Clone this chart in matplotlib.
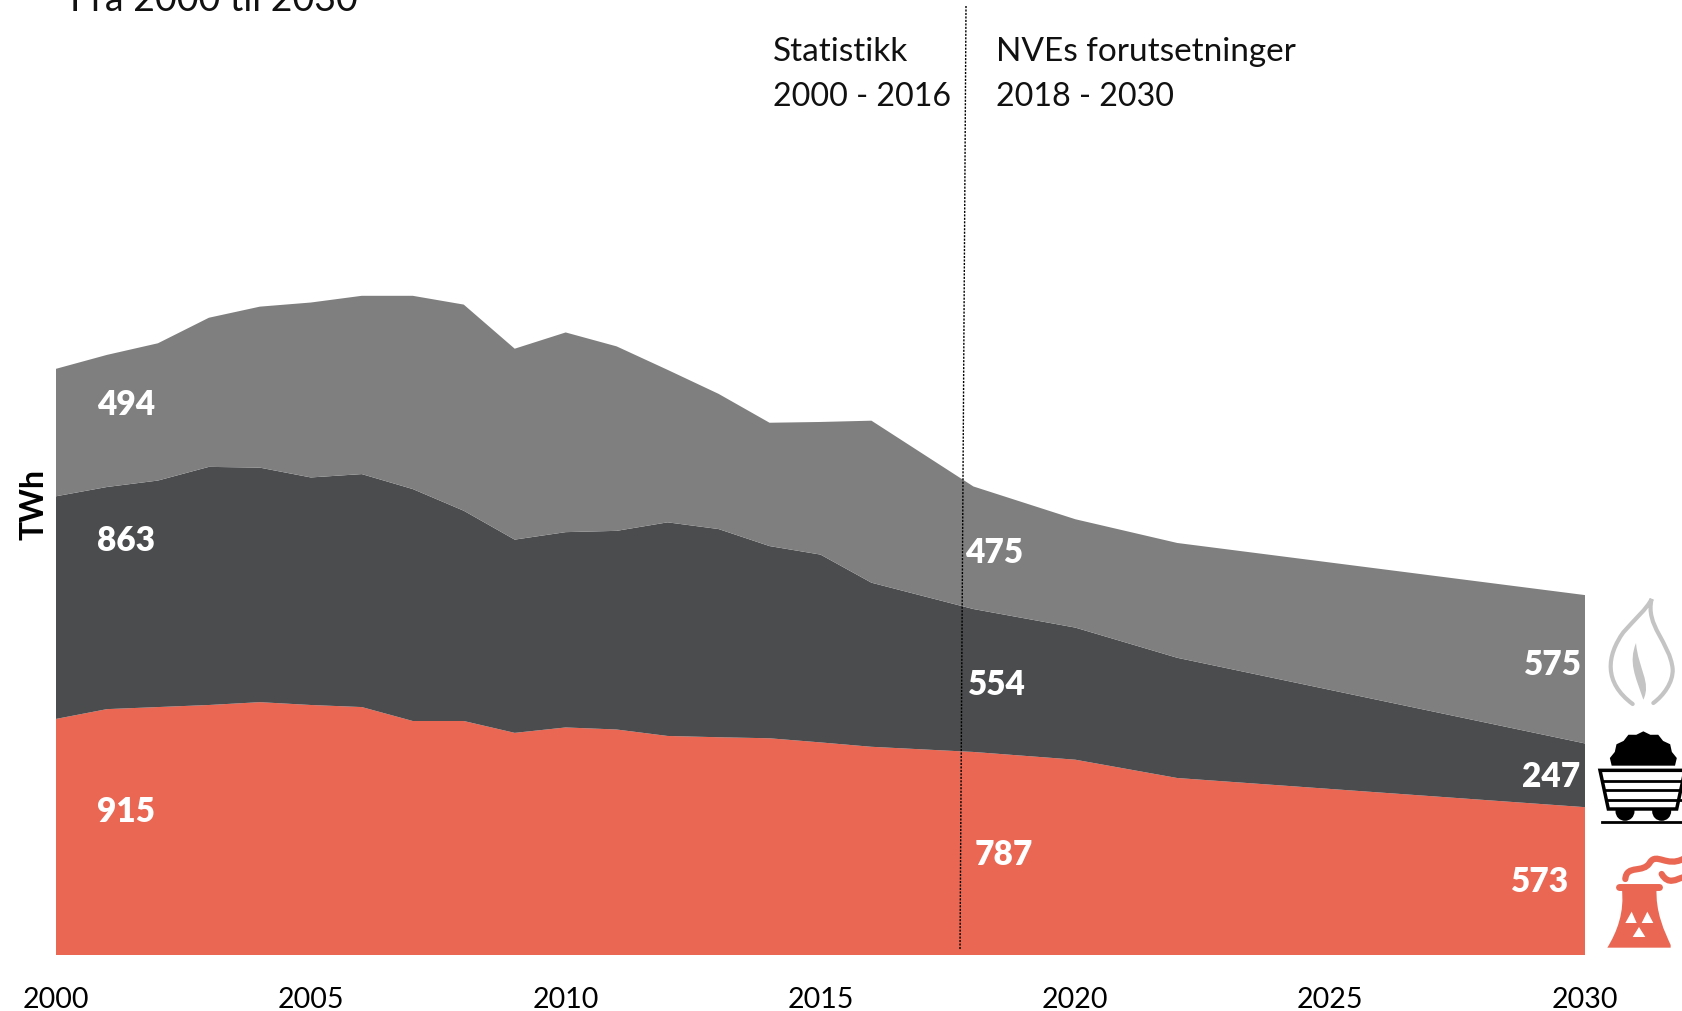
#!/usr/bin/env python3

import numpy as np
import matplotlib
matplotlib.use('Agg')
import matplotlib.pyplot as plt
from matplotlib.path import Path
from matplotlib.patches import PathPatch, Polygon, Circle

plt.rcParams['font.family'] = ['Lato', 'DejaVu Sans']

years = [2000, 2001, 2002, 2003, 2004, 2005, 2006, 2007, 2008, 2009, 2010,
         2011, 2012, 2013, 2014, 2015, 2016, 2018, 2020, 2022, 2030]
nuclear = [915, 953, 961, 969, 980, 969, 961, 907, 907, 861, 882,
           874, 849, 844, 840, 824, 807, 787, 757, 686, 573]
coal = [863, 861, 878, 923, 909, 882, 903, 899, 815, 749, 757,
        770, 828, 807, 745, 728, 636, 554, 512, 466, 247]
gas = [494, 512, 532, 578, 624, 678, 691, 749, 799, 740, 774,
       715, 591, 524, 478, 514, 628, 475, 420, 445, 575]
xticks = [2000, 2005, 2010, 2015, 2020, 2025, 2030]

RED = '#EA6753'
DARK = '#4B4C4E'
GREY = '#7F7F7F'
W, H = 1683, 1012

fig = plt.figure(figsize=(W / 100, H / 100), dpi=100)

## main chart, baseline at pixel 956
ax = fig.add_axes([56 / W, (H - 956) / H, (1585 - 56) / W, 956 / H])
ax.stackplot(years, nuclear, coal, gas, colors=[RED, DARK, GREY], lw=0)
ax.set_xlim(2000, 2030)
ax.set_ylim(0, 956 / 0.258)
ax.set_xticks(xticks)
ax.tick_params(axis='x', length=0, pad=22, labelsize=20.5)
ax.set_yticks([])
for s in ax.spines.values():
    s.set_visible(False)

## overlay in pixel coordinates for text and icons
ov = fig.add_axes([0, 0, 1, 1])
ov.set_xlim(0, W)
ov.set_ylim(H, 0)
ov.axis('off')
ov.patch.set_alpha(0)

ov.plot([966, 960], [7, 951], color='black', lw=1, ls=(0, (1.5, 1)))

ov.text(70, 11, 'Fra 2000 til 2030', fontsize=27, color='#111111', va='baseline')
ov.text(773, 52, 'Statistikk', fontsize=24, va='center', color='#111111')
ov.text(773, 97, '2000 - 2016', fontsize=23.2, va='center', color='#111111')
ov.text(996, 52, 'NVEs forutsetninger', fontsize=24, va='center', color='#111111')
ov.text(996, 97, '2018 - 2030', fontsize=23.2, va='center', color='#111111')
ov.text(34, 504, 'TWh', fontsize=23, fontweight='bold', rotation=90,
        ha='center', va='center')

labels = [('494', 126, 405), ('863', 126, 541), ('915', 126, 812),
          ('475', 994, 553), ('554', 997, 685), ('787', 1004, 855),
          ('575', 1553, 665), ('247', 1551, 777), ('573', 1540, 882)]
for t, x, y in labels:
    ov.text(x, y, t, fontsize=24, fontweight='heavy', color='white',
            ha='center', va='center')


def z(x, y):
    return (1560 + x / 3, 570 + y / 3)


def curve(points, codes, **kw):
    ov.add_patch(PathPatch(Path([z(*p) for p in points], codes), **kw))


M, C, L = Path.MOVETO, Path.CURVE4, Path.LINETO

## flame
curve([(218, 405), (130, 340), (140, 260), (190, 190),
       (225, 150), (260, 120), (275, 90),
       (255, 170), (330, 220), (338, 300),
       (340, 340), (310, 380), (280, 402)],
      [M, C, C, C, C, C, C, C, C, C, C, C, C],
      fc='none', ec='#C4C4C4', lw=3, capstyle='round')
curve([(228, 222), (205, 280), (225, 320), (250, 392),
       (275, 340), (235, 300), (228, 222)],
      [M, C, C, C, C, C, C], fc='#C4C4C4', ec='none')

## coal cart
bumps = np.linspace(np.pi, 0, 15)
coal_pts = [z(250 + (95 + (8 if i % 2 else 0)) * np.cos(a),
              590 - (95 + (8 if i % 2 else 0)) * np.sin(a)) for i, a in enumerate(bumps)]
ov.add_patch(Polygon(coal_pts, fc='black', ec='none'))
for cx in (195, 305):
    ov.add_patch(Circle(z(cx, 727), 9.5, fc='black', ec='none'))
ov.add_patch(Polygon([z(120, 604), z(375, 604), z(350, 720), z(145, 720)],
                     fc='white', ec='black', lw=2.5, joinstyle='miter'))
for yy, x0, x1 in [(636, 128, 369), (664, 134, 369), (692, 140, 369)]:
    ov.plot(*zip(z(x0, yy), z(x1, yy)), color='black', lw=2)
ov.plot(*zip(z(125, 760), z(372, 760)), color='black', lw=2)

## nuclear plant
curve([(185, 955), (290, 955),
       (285, 1030), (315, 1090), (332, 1128),
       (332, 1136), (142, 1136),
       (170, 1090), (195, 1030), (185, 955)],
      [M, L, C, C, C, L, L, C, C, C], fc=RED, ec='none')
ov.plot(*zip(z(178, 955), z(296, 955)), color=RED, lw=5, solid_capstyle='round')
curve([(196, 930), (200, 885), (250, 915), (270, 880),
       (290, 850), (320, 895), (369, 870)],
      [M, C, C, C, C, C, C], fc='none', ec=RED, lw=4.5, capstyle='round')
curve([(305, 915), (325, 950), (350, 930), (369, 925)],
      [M, C, C, C], fc='none', ec=RED, lw=4.5, capstyle='round')
for tri in ([(215, 1028), (196, 1062), (230, 1062)],
            [(262, 1028), (245, 1062), (280, 1062)],
            [(237, 1074), (218, 1104), (256, 1104)]):
    ov.add_patch(Polygon([z(*p) for p in tri], fc='white', ec='none'))

fig.savefig('out.png', dpi=100)
